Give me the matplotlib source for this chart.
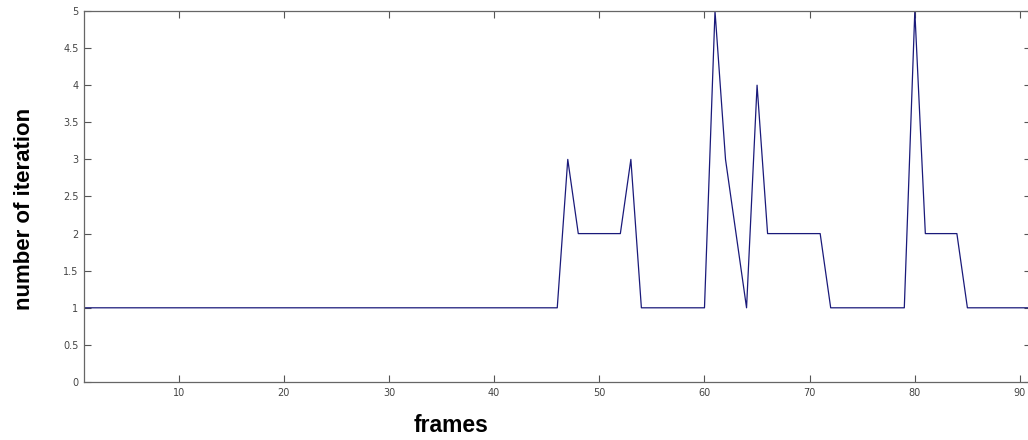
import matplotlib
matplotlib.use("Agg")
import matplotlib.pyplot as plt

frames = list(range(1, 92))
iterations = ([1] * 46 + [3] + [2] * 5 + [3] + [1] * 7 + [5, 3, 2, 1, 4] + [2] * 6 +
              [1] * 8 + [5] + [2] * 4 + [1] * 7)

fig = plt.figure(figsize=(10.28, 4.4), dpi=100)
ax = fig.add_axes([84 / 1028, 58 / 440, 946.5 / 1028, 371 / 440])
ax.plot(frames, iterations, color="#1a1a7a", linewidth=0.9)
ax.set_xlim(1, 91)
ax.set_ylim(0, 5)
ax.set_xticks([10, 20, 30, 40, 50, 60, 70, 80, 90])
ax.set_yticks([0, 0.5, 1, 1.5, 2, 2.5, 3, 3.5, 4, 4.5, 5])
ax.set_yticklabels(["0", "0.5", "1", "1.5", "2", "2.5", "3", "3.5", "4", "4.5", "5"])
ax.tick_params(direction="in", length=5, width=0.8, colors="#555555", labelsize=7,
               top=True, right=True, labelcolor="#444444", pad=4)
for s in ax.spines.values():
    s.set_color("#666666")
    s.set_linewidth(0.9)
fig.text(451 / 1028, 1 - 425 / 440, "frames", ha="center", va="center",
         fontsize=16.5, fontweight="bold", family="Liberation Sans")
fig.text(25 / 1028, 1 - 209 / 440, "number of iteration", ha="center", va="center",
         rotation=90, fontsize=16, fontweight="bold", family="Liberation Sans")
fig.savefig("out.png", dpi=100)
